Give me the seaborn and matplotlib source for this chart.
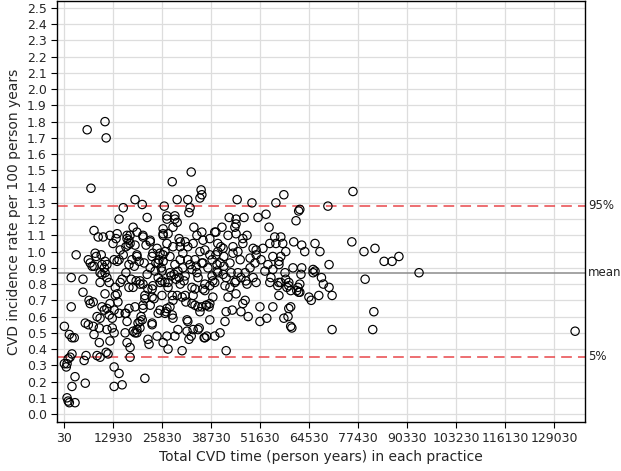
import pandas as pd
import matplotlib
matplotlib.use('Agg')
import matplotlib.pyplot as plt
import matplotlib.transforms as mtransforms
import seaborn as sns

# practice points, grouped by band of total CVD time (thousand person years)
band1_x = [0.1, 0.1, 0.6, 0.8, 1.1, 0.8, 1.1, 1.4, 1.9, 1.9, 1.4, 2.1, 2.7, 1.6, 2.1, 2.1, 2.9, 2.9,
           3.2, 5.0, 5.0, 5.3, 5.6, 5.8, 6.4, 6.6, 6.9, 7.7, 5.6, 6.4, 7.7, 7.9, 9.3, 8.7, 8.2, 7.4,
           7.9, 8.7, 9.3, 6.9, 6.1, 7.1, 7.9, 9.0, 8.5]
band1_y = [0.54, 0.31, 0.29, 0.31, 0.34, 0.10, 0.08, 0.07, 0.84, 0.66, 0.49, 0.47, 0.47, 0.35, 0.37, 0.17, 0.23, 0.07,
           0.98, 0.83, 0.75, 0.33, 0.19, 0.36, 0.95, 0.70, 0.68, 0.69, 0.56, 0.55, 0.54, 0.49, 0.44, 0.36, 0.99, 0.91,
           0.91, 0.60, 0.53, 0.93, 1.75, 1.39, 1.13, 1.09, 0.97]

band2_x = [10.8, 11.1, 14.0, 14.5, 15.6, 10.3, 16.6, 17.1, 14.8, 15.6, 9.8,
           9.5, 11.9, 12.7, 10.6, 11.3, 13.2, 12.1, 10.8, 13.5, 11.3, 12.7, 13.2, 16.1, 16.6, 16.6, 17.1,
           11.1, 13.2, 14.5, 13.2, 15.3, 10.0, 10.6, 10.8, 11.3, 9.5, 10.0, 10.8, 11.3, 11.9, 13.2, 14.5,
           17.1, 16.3, 17.1, 14.5, 16.1, 10.0, 14.2, 14.0, 16.3, 14.8, 14.0, 12.9, 13.7, 16.3, 16.9, 13.5,
           15.3, 16.6, 12.1, 9.5, 9.5, 11.6, 12.1]
band2_y = [1.80, 1.70, 1.11, 1.20, 1.27, 1.09, 1.10, 1.07, 1.01, 0.98, 0.98,
           0.59, 0.61, 0.59, 0.64, 0.65, 0.64, 0.68, 0.74, 0.73, 0.52, 0.53, 0.50, 0.50, 0.44, 0.57, 0.65,
           0.38, 0.29, 0.25, 0.17, 0.18, 0.92, 0.90, 0.94, 0.92, 0.87, 0.86, 0.87, 0.84, 0.81, 0.95, 0.95,
           0.92, 0.87, 0.78, 0.62, 0.62, 0.66, 0.69, 0.74, 0.62, 0.81, 0.94, 1.05, 1.08, 1.03, 1.04, 0.78,
           0.83, 1.08, 1.10, 0.81, 0.35, 0.37, 0.45]

band3_x = [18.7, 20.6, 21.9, 18.2, 19.2, 17.4, 20.8, 22.7, 18.7, 17.4, 19.2, 23.4,
           21.3, 17.4, 17.4, 22.1, 22.4, 24.5, 18.2, 19.2, 20.0, 19.5, 20.6, 23.2, 24.8, 18.7, 20.8,
           21.3, 21.3, 23.2, 22.1, 20.8, 20.0, 19.0, 17.7,
           19.2, 19.8, 20.8, 21.6, 22.7, 18.2, 20.0, 23.2, 24.2, 24.8, 23.2, 23.4, 22.7, 23.7, 23.2,
           20.8, 20.3, 20.0, 19.2, 18.7,
           17.9, 18.5, 21.9, 22.7, 24.0, 24.8, 21.1, 24.5, 25.3, 25.0]
band3_y = [1.32, 1.29, 1.21, 1.15, 1.12, 1.10, 1.10, 1.07, 1.04, 1.05, 0.98, 0.99,
           0.22, 0.35, 0.41, 0.46, 0.43, 0.48, 0.51, 0.52, 0.53, 0.56, 0.58, 0.56, 0.62, 0.66, 0.67,
           0.71, 0.73, 0.72, 0.77, 0.80, 0.80, 0.82, 0.83,
           0.97, 0.94, 1.09, 1.04, 1.06, 0.78, 0.82, 0.97, 0.93, 0.93, 0.77, 0.79, 0.67, 0.71, 0.55,
           0.65, 0.60, 0.57, 0.50, 0.50,
           0.95, 0.91, 0.86, 0.90, 0.88, 0.84, 0.93, 1.02, 0.99, 0.95]

band4_x = [26.1, 26.4, 27.1, 29.2, 29.8, 28.5, 32.6, 33.2, 32.9, 27.1, 29.2, 29.8, 28.7, 26.1, 26.1,
           27.4, 30.3, 31.9, 30.6, 28.7, 30.6, 32.6, 26.1,
           26.1, 27.4, 27.1, 29.2, 31.1, 32.9, 30.0, 32.4, 26.6, 27.1, 27.9, 28.5, 28.7, 32.6, 25.3,
           26.6, 27.4, 28.5, 29.8, 31.1, 31.9,
           25.3, 26.9, 25.8, 25.8, 25.6, 25.8, 26.1, 26.6, 27.1, 28.7, 29.5, 31.3, 31.6, 32.6, 32.4, 33.5,
           27.9, 29.2, 30.6, 30.0, 31.9, 27.9, 31.3, 33.2, 27.4, 30.6, 32.1, 28.2, 29.0, 30.3]
band4_y = [1.11, 1.28, 1.20, 1.20, 1.32, 1.43, 1.32, 1.27, 1.24, 1.22, 1.22, 1.18, 1.15, 1.14, 1.10,
           1.11, 1.08, 1.06, 1.06, 1.03, 1.03, 1.03, 0.98,
           0.44, 0.40, 0.48, 0.48, 0.39, 0.46, 0.52, 0.51, 0.62, 0.65, 0.66, 0.61, 0.59, 0.57, 0.81,
           0.81, 0.81, 0.73, 0.73, 0.72, 0.73,
           0.64, 0.63, 0.73, 0.82, 0.90, 0.88, 0.94, 1.00, 1.05, 0.70, 0.83, 0.90, 0.82, 0.95, 0.58, 0.48,
           0.87, 0.92, 0.95, 0.88, 0.85, 0.97, 0.99, 0.92, 0.78, 0.80, 0.69, 0.85, 0.86, 0.84]

band5_x = [33.5, 36.1, 36.3, 35.8, 34.2, 36.3,
           37.1, 38.4, 40.0, 40.5, 40.5, 41.3, 41.9, 39.7, 36.6,
           37.1, 39.7, 41.1, 37.4, 38.4, 37.1, 38.4, 39.7, 40.5,
           35.3, 36.9, 33.7, 34.5, 35.3, 35.8, 33.7,
           34.0, 34.0, 34.5, 35.0, 36.3, 36.6, 35.6, 36.3, 37.6, 38.2, 36.6, 37.1, 37.6, 38.4, 39.2,
           39.2, 40.3, 40.3,
           34.5, 35.8, 34.0, 37.9, 39.0, 35.3, 33.7, 34.8, 39.0, 41.1, 35.0, 38.4, 40.0]
band5_y = [1.49, 1.38, 1.35, 1.33, 1.15, 1.12,
           1.01, 0.98, 0.98, 1.00, 1.05, 1.03, 1.02, 1.12, 1.07,
           0.47, 0.48, 0.50, 0.67, 0.68, 0.76, 0.79, 0.81, 0.87,
           0.52, 0.47, 0.68, 0.67, 0.66, 0.63, 0.78,
           0.52, 0.73, 0.77, 0.87, 0.93, 0.93, 0.53, 0.66, 0.67, 0.66, 0.77, 0.80, 0.48, 0.58, 0.72,
           0.82, 0.88, 0.92,
           0.95, 1.00, 1.05, 0.90, 0.85, 0.84, 0.89, 0.91, 0.95, 0.93, 1.10, 1.08, 1.12]

band6_x = [45.6, 49.5, 43.5, 45.3, 47.4, 51.1, 45.3, 45.0, 41.6, 43.2, 45.3, 47.1, 48.2, 44.5, 47.1,
           49.8, 50.6, 44.5, 50.6,
           42.7, 42.4, 42.7, 44.3, 45.3, 43.2, 46.6, 48.5, 47.1, 47.7, 51.6, 51.6, 42.4, 43.7, 45.0,
           45.3, 46.6, 47.9, 48.2, 49.8, 50.6, 41.9, 42.7, 44.0, 45.8, 47.7,
           43.7, 42.1, 46.4, 49.0, 45.8, 42.1, 49.0, 50.3]
band6_y = [1.32, 1.30, 1.21, 1.20, 1.21, 1.21, 1.17, 1.15, 1.15, 1.10, 1.11, 1.08, 1.10, 1.03, 1.05,
           1.02, 1.01, 0.99, 0.98,
           0.39, 0.57, 0.63, 0.64, 0.74, 0.72, 0.63, 0.60, 0.68, 0.70, 0.57, 0.66, 0.79, 0.78, 0.81,
           0.82, 0.84, 0.82, 0.80, 0.84, 0.81, 0.86, 0.84, 0.87, 0.87, 0.87,
           0.93, 0.97, 0.95, 0.96, 1.00, 0.91, 0.90, 0.93]

band7_x = [53.2, 54.0, 55.8, 57.9, 55.5, 61.1, 61.8, 54.2, 57.1, 57.6, 55.8, 60.5, 62.6, 57.1, 56.6,
           55.0, 51.9,
           56.6, 62.6, 62.4, 59.7, 59.2, 59.0, 57.9, 59.7, 56.6, 57.1, 56.3, 58.4, 59.2, 59.2, 59.7,
           61.6, 61.8, 56.6,
           53.4, 54.2, 55.0, 58.7, 60.0, 61.3, 55.0, 54.5, 62.1, 62.1, 64.5,
           52.9, 53.7, 58.2, 60.3, 52.4, 58.4, 63.4, 62.1]
band7_y = [1.23, 1.15, 1.30, 1.35, 1.09, 1.19, 1.25, 1.05, 1.09, 1.05, 1.05, 1.06, 1.04, 0.97, 0.94,
           0.97, 0.95,
           0.92, 0.90, 0.86, 0.66, 0.65, 0.60, 0.59, 0.54, 0.81, 0.81, 0.79, 0.83, 0.81, 0.79, 0.76,
           0.78, 0.75, 0.73,
           0.59, 0.81, 0.66, 0.78, 0.53, 0.76, 0.89, 0.84, 0.80, 0.75, 0.72,
           0.88, 0.92, 0.87, 0.90, 1.02, 1.00, 1.00, 1.26]

band8_x = [65.6, 66.1, 66.1, 67.4, 69.8, 67.8, 68.3, 69.8, 70.6, 67.1, 65.1, 65.6, 70.6, 69.5,
           76.1, 75.8, 79.0, 81.9, 84.3, 86.4, 88.2, 93.5, 79.3, 81.6, 81.3, 134.6]
band8_y = [0.89, 0.88, 1.05, 1.00, 0.92, 0.84, 0.80, 0.78, 0.73, 0.73, 0.70, 0.87, 0.52, 1.28,
           1.37, 1.06, 1.00, 1.02, 0.94, 0.94, 0.97, 0.87, 0.83, 0.63, 0.52, 0.51]

ref_names = ['95%', 'mean', '5%']
ref_values = [1.281, 0.870, 0.353]
ref_colors = ['#e8474a', '#8c8c8c', '#e8474a']
ref_styles = [(0, (7, 4)), '-', (0, (7, 4))]

x_ticks = [30, 12930, 25830, 38730, 51630, 64530, 77430, 90330, 103230, 116130, 129030]
y_ticks = [round(i * 0.1, 1) for i in range(26)]

xs = band1_x + band2_x + band3_x + band4_x + band5_x + band6_x + band7_x + band8_x
ys = band1_y + band2_y + band3_y + band4_y + band5_y + band6_y + band7_y + band8_y
df = pd.DataFrame({'time': [v * 1000 for v in xs], 'rate': ys})

sns.set_style('whitegrid', {'grid.color': '#dddddd', 'axes.edgecolor': 'black'})
plt.rcParams['font.family'] = ['DejaVu Sans']

fig, ax = plt.subplots(figsize=(6.21, 4.71), dpi=100)
fig.subplots_adjust(left=0.092, right=0.942, bottom=0.104, top=0.998)

sns.scatterplot(data=df, x='time', y='rate', marker='o', s=36, facecolors='none',
                edgecolor='black', linewidth=0.85, ax=ax, zorder=3)

trans = mtransforms.blended_transform_factory(ax.transAxes, ax.transData)
for name, val, col, ls in zip(ref_names, ref_values, ref_colors, ref_styles):
    ax.axhline(val, color=col, linestyle=ls, linewidth=1.1, zorder=2)
    ax.text(1.006, val, name, transform=trans, va='center', ha='left', fontsize=8.5, color='#222222')

ax.set_xlim(-1810, 137200)
ax.set_ylim(-0.049, 2.543)
ax.set_xticks(x_ticks)
ax.set_yticks(y_ticks)
ax.set_yticklabels([f'{v:.1f}' for v in y_ticks])
ax.tick_params(axis='both', which='major', labelsize=9, length=4, width=0.8,
               color='black', direction='out', left=True, bottom=True)
for sp in ax.spines.values():
    sp.set_color('black')
    sp.set_linewidth(1.0)
ax.grid(True, color='#dddddd', linewidth=0.9)
ax.set_axisbelow(True)

ax.set_xlabel('Total CVD time (person years) in each practice', fontsize=10, labelpad=3)
ax.set_ylabel('CVD incidence rate per 100 person years', fontsize=10, labelpad=4)

plt.savefig('out.png', dpi=100)
